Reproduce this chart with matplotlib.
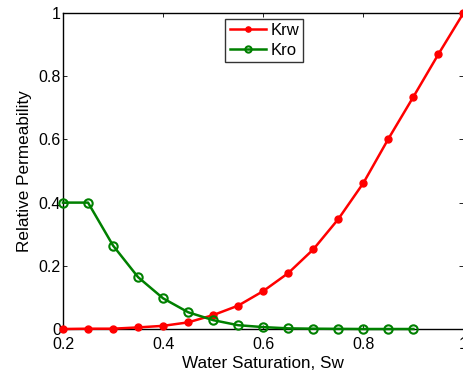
import matplotlib
matplotlib.use("Agg")
import matplotlib.pyplot as plt

sw_w = [0.2, 0.25, 0.3, 0.35, 0.4, 0.45, 0.5, 0.55, 0.6, 0.65, 0.7, 0.75, 0.8, 0.85, 0.9, 0.95, 1.0]
krw = [0.0, 0.001, 0.001, 0.005, 0.01, 0.021, 0.044, 0.074, 0.12, 0.177, 0.252, 0.348, 0.462, 0.602, 0.735, 0.87, 1.0]
sw_o = [0.2, 0.25, 0.3, 0.35, 0.4, 0.45, 0.5, 0.55, 0.6, 0.65, 0.7, 0.75, 0.8, 0.85, 0.9]
kro = [0.4, 0.4, 0.264, 0.164, 0.097, 0.053, 0.028, 0.012, 0.006, 0.002, 0.001, 0.0005, 0.0, 0.0, 0.0]
xticks = [0.2, 0.4, 0.6, 0.8, 1.0]
xticklabels = ["0.2", "0.4", "0.6", "0.8", "1"]
yticks = [0, 0.2, 0.4, 0.6, 0.8, 1.0]
yticklabels = ["0", "0.2", "0.4", "0.6", "0.8", "1"]

plt.rcParams['font.family'] = ['Liberation Sans', 'DejaVu Sans']
fig = plt.figure(figsize=(4.64, 3.74), dpi=100)
ax = fig.add_axes([63/464, 1-329/374, 400.5/464, 316/374])
ax.plot(sw_w, krw, color=(1, 0, 0), lw=1.8, marker='o', ms=5, mfc=(1, 0, 0), mec=(1, 0, 0), label='Krw', clip_on=False, zorder=3)
ax.plot(sw_o, kro, color=(0, 0.5, 0), lw=1.8, marker='o', ms=6, mfc='none', mec=(0, 0.5, 0), mew=1.5, label='Kro', clip_on=False, zorder=3)
ax.set_xlim(0.2, 1.0)
ax.set_ylim(0, 1)
ax.set_xticks(xticks)
ax.set_xticklabels(xticklabels)
ax.set_yticks(yticks)
ax.set_yticklabels(yticklabels)
ax.tick_params(direction='in', top=True, right=True, labelsize=11.5, length=3, width=0.6)
ax.tick_params(axis='x', pad=5.5)
ax.tick_params(axis='y', pad=1.5)
for s in ax.spines.values():
    s.set_linewidth(1.0)
ax.spines['right'].set_visible(False)
ax.set_xlabel('Water Saturation, Sw', fontsize=12.3, labelpad=3)
ax.set_ylabel('Relative Permeability', fontsize=12.3, labelpad=5)
leg = ax.legend(loc='upper center', bbox_to_anchor=(0.503, 0.982), fontsize=12, frameon=True, fancybox=False,
                edgecolor='black', handlelength=2.2, borderpad=0.25, labelspacing=0.28, handletextpad=0.25,
                borderaxespad=0.0, markerscale=0.75)
leg.get_frame().set_linewidth(1.0)
fig.savefig('out.png', dpi=100)
